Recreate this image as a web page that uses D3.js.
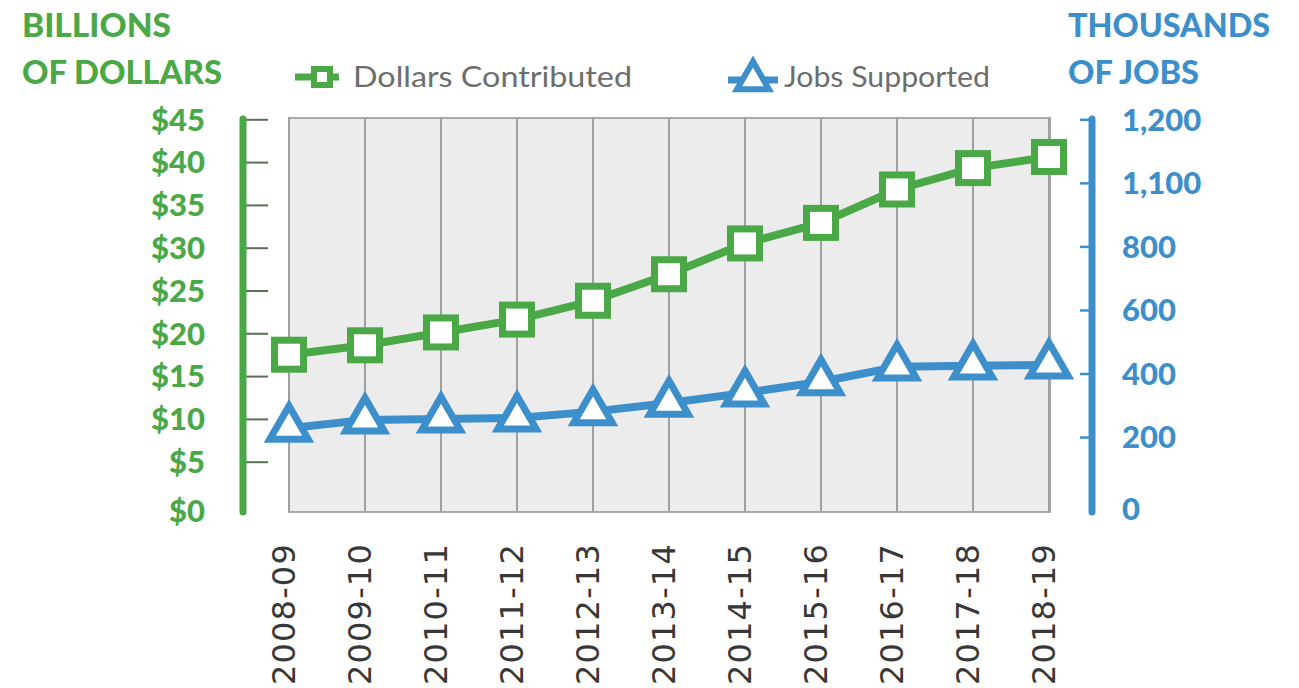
<!DOCTYPE html>
<html>
<head>
<meta charset="utf-8">
<script src="https://cdn.jsdelivr.net/npm/d3@7/dist/d3.min.js"></script>
<style>
  html, body { margin: 0; padding: 0; background: #fff; }
  svg { display: block; }
</style>
</head>
<body>
<svg id="chart" width="1299" height="688"></svg>
<script>
// ---- data ----
const categories = ["2008-09","2009-10","2010-11","2011-12","2012-13","2013-14","2014-15","2015-16","2016-17","2017-18","2018-19"];
const dollars = [17.5, 18.6, 20.1, 21.6, 23.8, 26.9, 30.5, 32.9, 36.8, 39.3, 40.6];
const jobs = [228, 254, 257, 260, 280, 307, 339, 374, 421, 424, 427];
const leftTicks = [0, 5, 10, 15, 20, 25, 30, 35, 40, 45];
const rightTicks = [0, 200, 400, 600, 800, 1000, 1200];
const rightTickLabels = ["0", "200", "400", "600", "800", "1,100", "1,200"];
const seriesNames = ["Dollars Contributed", "Jobs Supported"];
const leftTitle = ["BILLIONS", "OF DOLLARS"];
const rightTitle = ["THOUSANDS", "OF JOBS"];

// ---- styles ----
const GREEN = "#4ba847";
const BLUE = "#3d8fcb";
const svg = d3.select("#chart");

const plot = { x0: 289, x1: 1050, y0: 118, y1: 512 };

const x = d3.scalePoint().domain(categories).range([289, 1049]);
const yL = d3.scaleLinear().domain([0, 45]).range([504.5, 119.3]);
const yR = d3.scaleLinear().domain([0, 1200]).range([500.6, 119.3]);

// plot background
svg.append("rect")
  .attr("x", plot.x0).attr("y", plot.y0)
  .attr("width", plot.x1 - plot.x0).attr("height", plot.y1 - plot.y0)
  .attr("fill", "#ececec").attr("stroke", "#a8a8a8").attr("stroke-width", 2);

// vertical gridlines
svg.append("g").selectAll("line").data(categories).join("line")
  .attr("x1", d => x(d)).attr("x2", d => x(d))
  .attr("y1", plot.y0).attr("y2", plot.y1)
  .attr("stroke", "#a0a0a0").attr("stroke-width", 2);

// ---- left axis ----
const leftAxisX = 243;
const gLticks = svg.append("g").attr("transform", `translate(${leftAxisX},0)`)
  .call(d3.axisRight(yL).tickValues(leftTicks.filter(d => d > 0)).tickSize(25).tickFormat(""));
gLticks.select(".domain").remove();
gLticks.selectAll(".tick line").attr("stroke", "#5b6e58").attr("stroke-width", 2);

const gLlabels = svg.append("g").attr("transform", `translate(${leftAxisX},0)`)
  .call(d3.axisLeft(yL).tickValues(leftTicks).tickSize(0).tickPadding(38).tickFormat(d => "$" + d));
gLlabels.select(".domain").remove();
gLlabels.selectAll(".tick text")
  .attr("fill", GREEN).attr("font-family", "Lato, sans-serif").attr("font-weight", 900)
  .attr("font-size", 31).attr("dy", d => d === 0 ? "0.55em" : "0.35em");

svg.append("line")
  .attr("x1", leftAxisX).attr("x2", leftAxisX).attr("y1", 119).attr("y2", 512)
  .attr("stroke", GREEN).attr("stroke-width", 7).attr("stroke-linecap", "round");

// ---- right axis ----
const rightAxisX = 1092;
const gRticks = svg.append("g").attr("transform", `translate(${rightAxisX},0)`)
  .call(d3.axisLeft(yR).tickValues(rightTicks.filter(d => d > 0)).tickSize(12).tickFormat(""));
gRticks.select(".domain").remove();
gRticks.selectAll(".tick line").attr("stroke", BLUE).attr("stroke-width", 2.5);

const gRlabels = svg.append("g").attr("transform", `translate(${rightAxisX},0)`)
  .call(d3.axisRight(yR).tickValues(rightTicks).tickSize(0).tickPadding(30)
    .tickFormat((d, i) => rightTickLabels[i]));
gRlabels.select(".domain").remove();
gRlabels.selectAll(".tick text")
  .attr("fill", BLUE).attr("font-family", "Lato, sans-serif").attr("font-weight", 900)
  .attr("font-size", 31).attr("dy", d => d === 0 ? "0.6em" : "0.35em");

svg.append("line")
  .attr("x1", rightAxisX).attr("x2", rightAxisX).attr("y1", 119).attr("y2", 512)
  .attr("stroke", BLUE).attr("stroke-width", 7).attr("stroke-linecap", "round");

// ---- x axis labels ----
const gX = svg.append("g").attr("transform", `translate(0,${plot.y1})`)
  .call(d3.axisBottom(x).tickSize(0).tickPadding(0));
gX.select(".domain").remove();
gX.selectAll(".tick text")
  .attr("transform", "rotate(-90)")
  .attr("text-anchor", "end")
  .attr("x", -31).attr("y", 0).attr("dy", "0.17em")
  .attr("fill", "#383838")
  .attr("font-family", "'DejaVu Sans', sans-serif")
  .attr("font-size", 32)
  .attr("letter-spacing", 1.2);

// ---- lines ----
const lineL = d3.line().x((d, i) => x(categories[i])).y(d => yL(d));
const lineR = d3.line().x((d, i) => x(categories[i])).y(d => yR(d));

svg.append("path").datum(dollars).attr("d", lineL)
  .attr("fill", "none").attr("stroke", GREEN).attr("stroke-width", 8).attr("stroke-linejoin", "round");
svg.append("path").datum(jobs).attr("d", lineR)
  .attr("fill", "none").attr("stroke", BLUE).attr("stroke-width", 8).attr("stroke-linejoin", "round");

// squares
const sq = 29;
svg.append("g").selectAll("rect").data(dollars).join("rect")
  .attr("x", (d, i) => x(categories[i]) - sq / 2)
  .attr("y", d => yL(d) - sq / 2)
  .attr("width", sq).attr("height", sq)
  .attr("fill", "#fff").attr("stroke", GREEN).attr("stroke-width", 7);

// triangles
const tri = d3.symbol().type(d3.symbolTriangle).size(640);
svg.append("g").selectAll("path").data(jobs).join("path")
  .attr("d", tri)
  .attr("transform", (d, i) => `translate(${x(categories[i])},${yR(d)})`)
  .attr("fill", "#fff").attr("stroke", BLUE).attr("stroke-width", 7).attr("stroke-linejoin", "miter");

// ---- legend ----
const lg = svg.append("g");
lg.append("line").attr("x1", 295).attr("x2", 339).attr("y1", 77).attr("y2", 77)
  .attr("stroke", GREEN).attr("stroke-width", 7);
lg.append("rect").attr("x", 322 - 8).attr("y", 77 - 8).attr("width", 16).attr("height", 16)
  .attr("fill", "#fff").attr("stroke", GREEN).attr("stroke-width", 6);
lg.append("text").attr("x", 353).attr("y", 77).attr("dy", "0.35em")
  .attr("font-family", "Lato, sans-serif").attr("font-size", 29).attr("fill", "#6d6d6d")
  .attr("textLength", 279).attr("lengthAdjust", "spacingAndGlyphs")
  .text(seriesNames[0]);

lg.append("line").attr("x1", 728).attr("x2", 778).attr("y1", 80).attr("y2", 80)
  .attr("stroke", BLUE).attr("stroke-width", 7);
lg.append("path").attr("d", d3.symbol().type(d3.symbolTriangle).size(440))
  .attr("transform", "translate(753,80)")
  .attr("fill", "#fff").attr("stroke", BLUE).attr("stroke-width", 6);
lg.append("text").attr("x", 784).attr("y", 77).attr("dy", "0.35em")
  .attr("font-family", "Lato, sans-serif").attr("font-size", 29).attr("fill", "#6d6d6d")
  .attr("textLength", 206).attr("lengthAdjust", "spacingAndGlyphs")
  .text(seriesNames[1]);

// ---- axis titles ----
function title(g, txt, xPos, yPos, len) {
  g.append("text").attr("x", xPos).attr("y", yPos).text(txt)
    .attr("textLength", len).attr("lengthAdjust", "spacingAndGlyphs")
    .attr("font-family", "Lato, sans-serif").attr("font-size", 33).attr("font-weight", 900);
}
const lt = svg.append("g").attr("fill", GREEN);
title(lt, leftTitle[0], 22, 37, 149);
title(lt, leftTitle[1], 22, 84, 200);
const rt = svg.append("g").attr("fill", BLUE);
title(rt, rightTitle[0], 1068, 37, 202);
title(rt, rightTitle[1], 1068, 84, 131);
</script>
</body>
</html>
